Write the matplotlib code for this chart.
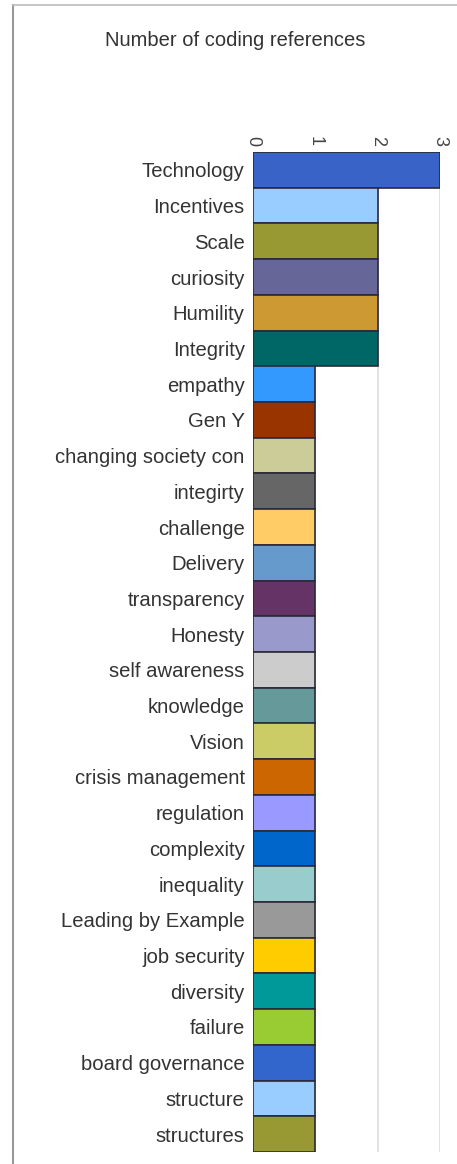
import matplotlib
matplotlib.use("Agg")
import matplotlib.pyplot as plt
from matplotlib.lines import Line2D

plt.rcParams['font.family'] = ['Liberation Sans', 'DejaVu Sans']

categories = [
    "Technology", "Incentives", "Scale", "curiosity", "Humility", "Integrity",
    "empathy", "Gen Y", "changing society con", "integirty", "challenge",
    "Delivery", "transparency", "Honesty", "self awareness", "knowledge",
    "Vision", "crisis management", "regulation", "complexity", "inequality",
    "Leading by Example", "job security", "diversity", "failure",
    "board governance", "structure", "structures",
]
values = [3, 2, 2, 2, 2, 2] + [1] * 22
colors = [
    "#3A63C8", "#99CCFF", "#999933", "#666699", "#CC9933", "#006666",
    "#3399FF", "#993300", "#CCCC99", "#666666", "#FFCC66", "#6699CC",
    "#663366", "#9999CC", "#CCCCCC", "#669999", "#CCCC66", "#CC6600",
    "#9999FF", "#0066CC", "#99CCCC", "#999999", "#FFCC00", "#009999",
    "#99CC33", "#3366CC", "#99CCFF", "#999933",
]
ticks = [0, 1, 2, 3]

W, H = 457, 1164
fig = plt.figure(figsize=(W / 100, H / 100), dpi=100)

# plot area in pixel coordinates
left, right, top, bottom = 253, 440, 152, 1152
ax = fig.add_axes([left / W, 1 - bottom / H, (right - left) / W, (bottom - top) / H])

pos = list(range(len(categories)))
ax.barh(pos, values, height=1.0, color=colors, edgecolor="#2a2a3a", linewidth=1.2, zorder=3)
ax.set_ylim(len(categories) - 0.5, -0.5)
ax.set_xlim(0, 3)

ax.set_yticks(pos)
ax.set_yticklabels(categories, fontsize=14.6, color="#333333")
ax.tick_params(axis="y", length=0, pad=6)

ax.xaxis.tick_top()
ax.set_xticks(ticks)
ax.set_xticklabels([str(t) for t in ticks], rotation=-90, fontsize=13, color="#444444")
ax.tick_params(axis="x", length=0, pad=4)
for lab in ax.get_xticklabels():
    lab.set_va("bottom")

ax.grid(axis="x", color="#dddddd", linewidth=1.2, zorder=0)
for s in ax.spines.values():
    s.set_visible(False)

fig.text(235 / W, 1 - 40 / H, "Number of coding references", fontsize=14.5,
         color="#333333", ha="center", va="center")

# frame around the chart
fig.add_artist(Line2D([13 / W, 13 / W], [0, 1 - 5 / H], color="#999999", linewidth=1.5,
                      transform=fig.transFigure))
fig.add_artist(Line2D([13 / W, 1], [1 - 5 / H, 1 - 5 / H], color="#bbbbbb", linewidth=1.2,
                      transform=fig.transFigure))

fig.savefig("out.png", dpi=100)
